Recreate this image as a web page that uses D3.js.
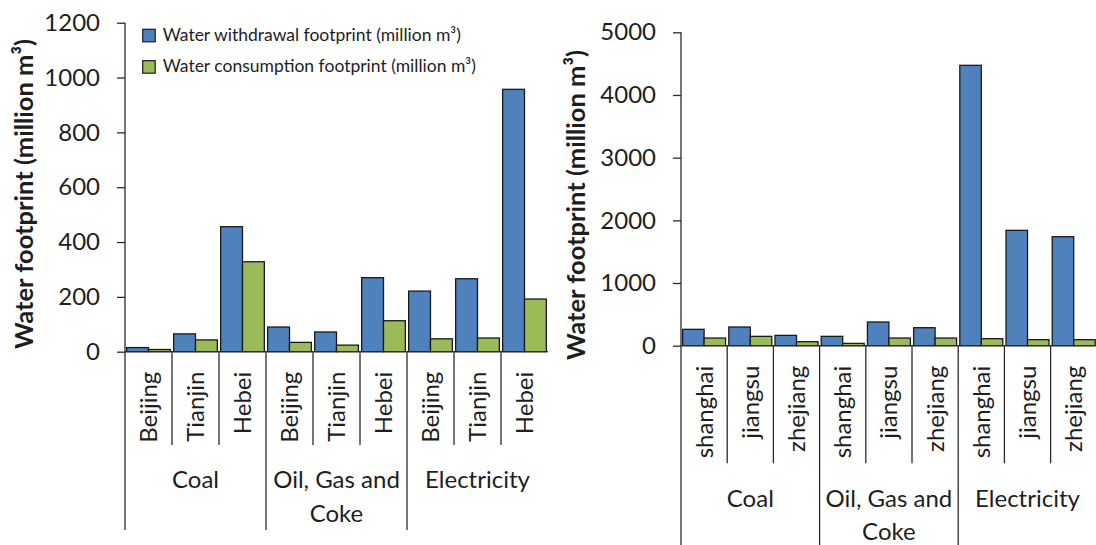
<!DOCTYPE html>
<html>
<head>
<meta charset="utf-8">
<script src="https://cdn.jsdelivr.net/npm/d3@7"></script>
<style>
  html, body { margin: 0; padding: 0; background: #fff; }
  svg { display: block; }
  text { font-family: Lato, "Open Sans", sans-serif; fill: #1e1e1e; }
</style>
</head>
<body>
<svg id="chart" width="1096" height="545"></svg>
<script>
// Sectors (outer category level) and regions (inner level)
const sectorLines = [["Coal"], ["Oil, Gas and", "Coke"], ["Electricity"]];
const northRegions = ["Beijing", "Tianjin", "Hebei"];
const eastRegions = ["shanghai", "jiangsu", "zhejiang"];

const seriesNames = [
  "Water withdrawal footprint (million m\u00B3)",
  "Water consumption footprint (million m\u00B3)"
];
const seriesColors = ["#4F81BD", "#9BBB59"];
const axisTitle = "Water footprint (million m\u00B3)";

// Values in million m³, ordered sector by sector, region by region
const northWithdrawal = [15, 65, 456, 90, 72, 270, 221, 266, 957];
const northConsumption = [8, 43, 328, 34, 24, 113, 47, 50, 192];
const eastWithdrawal = [261, 298, 165, 149, 378, 287, 4473, 1840, 1739];
const eastConsumption = [122, 149, 64, 37, 122, 122, 112, 96, 96];

const northTicks = [0, 200, 400, 600, 800, 1000, 1200];
const eastTicks = [0, 1000, 2000, 3000, 4000, 5000];

const svg = d3.select("#chart");

function drawPanel(p) {
  const g = svg.append("g");
  const rows = [];
  sectorLines.forEach((s, si) => p.regions.forEach((r, ri) => {
    const i = si * p.regions.length + ri;
    rows.push({ key: i, region: r, sector: si, values: [p.withdrawal[i], p.consumption[i]] });
  }));

  const x = d3.scaleBand().domain(rows.map(d => d.key))
    .range([p.left, p.right]).paddingInner(0.07).paddingOuter(0.035);
  const xs = d3.scaleBand().domain([0, 1]).range([0, x.bandwidth()]);
  const y = d3.scaleLinear().domain([0, d3.max(p.ticks)]).range([p.base, p.top]);
  const step = x.step();
  const edge = i => p.left + i * step;

  // bars
  g.selectAll("g.cat").data(rows).join("g")
    .attr("transform", d => `translate(${x(d.key)},0)`)
    .selectAll("rect").data(d => d.values).join("rect")
    .attr("x", (v, k) => xs(k))
    .attr("width", xs.bandwidth())
    .attr("y", v => y(v))
    .attr("height", v => y(0) - y(v))
    .attr("fill", (v, k) => seriesColors[k])
    .attr("stroke", "#1a1a1a")
    .attr("stroke-width", 1.3);

  // value axis
  const ya = g.append("g").attr("transform", `translate(${p.left},0)`)
    .call(d3.axisLeft(y).tickValues(p.ticks).tickFormat(d3.format("d"))
      .tickSize(8).tickPadding(17));
  ya.select(".domain").remove();
  ya.selectAll(".tick line").attr("stroke", "#2a2a2a").attr("stroke-width", 1.3);
  ya.selectAll(".tick text").attr("font-size", 24).attr("fill", "#1e1e1e")
    .attr("font-family", "Lato, sans-serif");

  // spine: value axis line, continued down through the category table
  g.append("line").attr("x1", p.left).attr("x2", p.left)
    .attr("y1", y(d3.max(p.ticks))).attr("y2", p.groupBottom)
    .attr("stroke", "#2a2a2a").attr("stroke-width", 1.3);
  // category axis line
  g.append("line").attr("x1", p.left).attr("x2", p.right)
    .attr("y1", y(0)).attr("y2", y(0))
    .attr("stroke", "#2a2a2a").attr("stroke-width", 1.3);

  // separators between categories
  const n = rows.length, per = p.regions.length;
  const seps = d3.range(1, n);
  g.selectAll("line.sep").data(seps).join("line")
    .attr("x1", i => edge(i)).attr("x2", i => edge(i))
    .attr("y1", y(0))
    .attr("y2", i => i % per === 0 ? p.groupBottom : p.innerBottom)
    .attr("stroke", "#2a2a2a").attr("stroke-width", 1.3);

  // region labels
  g.selectAll("text.region").data(rows).join("text")
    .attr("transform", d => `translate(${x(d.key) + x.bandwidth() / 2},${y(0) + 20}) rotate(-90)`)
    .attr("text-anchor", "end").attr("dy", "0.35em")
    .attr("font-size", p.regionSize)
    .text(d => d.region);

  // sector labels
  sectorLines.forEach((lines, si) => {
    const cx = (edge(si * per) + edge((si + 1) * per)) / 2;
    lines.forEach((t, li) => {
      g.append("text").attr("x", cx).attr("y", p.sectorBase + li * 33.5)
        .attr("text-anchor", "middle").attr("font-size", 24).text(t);
    });
  });

  // value axis title
  g.append("text")
    .attr("transform", `translate(${p.titleX},${p.titleY}) rotate(-90)`)
    .attr("text-anchor", "middle").attr("font-size", 25.5).attr("font-weight", 700)
    .text(axisTitle);
}

drawPanel({
  regions: northRegions, withdrawal: northWithdrawal, consumption: northConsumption,
  ticks: northTicks, left: 125, right: 548, base: 351.7, top: 22.7,
  innerBottom: 445, groupBottom: 530, sectorBase: 488, regionSize: 24,
  titleX: 33, titleY: 194
});

drawPanel({
  regions: eastRegions, withdrawal: eastWithdrawal, consumption: eastConsumption,
  ticks: eastTicks, left: 681, right: 1096.8, base: 345.7, top: 32.3,
  innerBottom: 463.3, groupBottom: 546, sectorBase: 506.7, regionSize: 24,
  titleX: 585, titleY: 205
});

// legend
const legend = svg.append("g");
seriesNames.forEach((name, k) => {
  const ly = 29.3 + k * 31.4;
  legend.append("rect").attr("x", 142.7).attr("y", ly).attr("width", 12.5).attr("height", 12.5)
    .attr("fill", seriesColors[k]).attr("stroke", "#1a1a1a").attr("stroke-width", 1.2);
  legend.append("text").attr("x", 162.7).attr("y", ly + 11.5)
    .attr("font-size", 17.5).text(name);
});
</script>
</body>
</html>
